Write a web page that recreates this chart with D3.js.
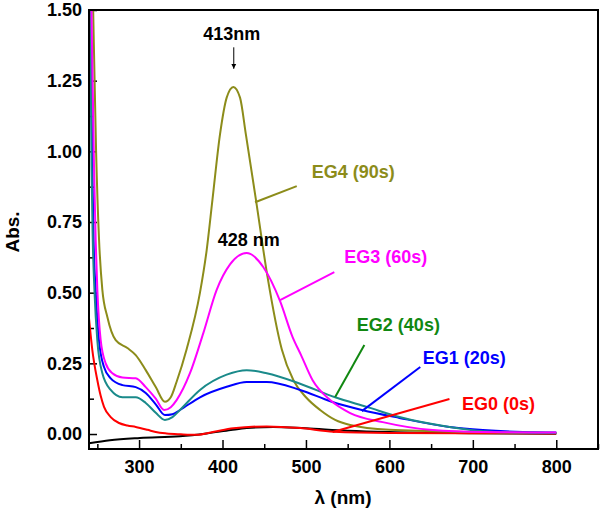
<!DOCTYPE html>
<html>
<head>
<meta charset="utf-8">
<script src="https://cdn.jsdelivr.net/npm/d3@7"></script>
<style>
  body { margin: 0; background: #fff; }
  text { font-family: "Liberation Sans", Arial, sans-serif; }
</style>
</head>
<body>
<div class="chart"></div>
<script>
const margin = { top: 10, bottom: 65, left: 89, right: 2 };

const width = 600 - margin.left - margin.right;
const height = 514 - margin.top - margin.bottom;

// wavelength (nm), absorbance
const eg4 = [[240,2.3],[245,1.5],[248.5,1.0],[252,0.69],[256,0.51],[262,0.414],[272,0.332],[286,0.304],[296,0.279],[308,0.226],[320,0.166],[331,0.114],[338,0.13],[345,0.185],[357,0.30],[373,0.50],[381,0.65],[388,0.83],[397,1.06],[405,1.19],[413,1.228],[421,1.19],[428,1.06],[440,0.83],[454,0.555],[471,0.30],[485,0.19],[500,0.13],[517,0.085],[535,0.05],[553,0.032],[600,0.015],[700,0.007],[800,0.004]];
const eg3 = [[240,2.1],[243,1.5],[246,0.95],[248,0.686],[250,0.51],[254,0.332],[260,0.25],[268,0.215],[280,0.20],[296,0.197],[308,0.166],[320,0.125],[330,0.085],[338,0.095],[345,0.12],[361,0.215],[377,0.357],[393,0.51],[409,0.60],[429,0.64],[449,0.59],[469,0.47],[484,0.343],[494,0.28],[508,0.19],[529,0.12],[553,0.074],[592,0.042],[652,0.014],[712,0.007],[800,0.005]];
const eg2 = [[240,1.9],[241.5,1.5],[243,0.95],[244.5,0.686],[246.5,0.51],[250,0.33],[256,0.215],[266,0.156],[280,0.13],[296,0.13],[308,0.11],[320,0.075],[331,0.05],[340,0.06],[349,0.085],[373,0.156],[405,0.21],[429,0.226],[453,0.215],[493,0.178],[535,0.13],[573,0.096],[612,0.06],[672,0.025],[712,0.01],[760,0.005],[800,0.004]];
const eg1 = [[240,1.95],[242,1.5],[244,0.95],[245.5,0.686],[248,0.51],[252,0.33],[258,0.237],[266,0.197],[280,0.173],[296,0.166],[308,0.145],[320,0.105],[331,0.067],[340,0.07],[349,0.085],[373,0.13],[405,0.167],[429,0.184],[453,0.184],[493,0.156],[530,0.115],[567,0.085],[612,0.057],[672,0.025],[712,0.014],[760,0.007],[800,0.005]];
const eg0 = [[240,0.41],[244,0.297],[250,0.19],[254,0.135],[258,0.096],[266,0.06],[276,0.039],[286,0.03],[296,0.025],[310,0.015],[320,0.007],[333,0.002],[350,-0.001],[369,-0.003],[390,0.008],[413,0.02],[453,0.027],[493,0.021],[533,0.008],[600,0.004],[700,0.003],[800,0.002]];
const blank = [[240,-0.033],[265,-0.022],[301,-0.014],[349,-0.008],[381,0.002],[410,0.014],[429,0.021],[461,0.025],[500,0.02],[550,0.012],[600,0.007],[700,0.003],[800,0.001]];

const x_major = [300, 400, 500, 600, 700, 800];
const x_minor = [250, 350, 450, 550, 650, 750, 850];
const y_major = [0, 0.25, 0.5, 0.75, 1.0, 1.25, 1.5];
const y_minor = [0.125, 0.375, 0.625, 0.875, 1.125, 1.375];

// label text, label anchor [nm, abs], leader line from -> to [nm, abs]
const labels = [
    { name: "EG4 (90s)", color: "#8c8c1a", at: [507, 0.905], from: [489, 0.877], to: [439, 0.82] },
    { name: "EG3 (60s)", color: "#ff00ff", at: [546, 0.605], from: [534, 0.573], to: [469, 0.474] },
    { name: "EG2 (40s)", color: "#118811", at: [561, 0.365], from: [570, 0.315], to: [535, 0.131] },
    { name: "EG1 (20s)", color: "#0000ff", at: [640, 0.248], from: [637, 0.237], to: [567, 0.081] },
    { name: "EG0 (0s)",  color: "#ff0000", at: [687, 0.085], from: [672, 0.124], to: [532, 0.007] }
];

const series = [
    { data: blank, color: "#000000" },
    { data: eg0, color: "#ff0000" },
    { data: eg4, color: "#8c8c1a" },
    { data: eg1, color: "#0000ff" },
    { data: eg2, color: "#1a8a8a" },
    { data: eg3, color: "#ff00ff" }
];

const svg = d3.select('.chart')
    .append('svg')
    .attr('width', width + margin.left + margin.right)
    .attr('height', height + margin.top + margin.bottom)
    .append('g')
    .attr('transform', `translate(${margin.left},${margin.top})`);

var x_scale = d3.scaleLinear()
    .domain([240, 850])
    .range([0, width]);

var y_scale = d3.scaleLinear()
    .domain([-0.053, 1.5])
    .range([height, 0]);

svg.append("clipPath")
    .attr("id", "plot_clip")
    .append("rect")
    .attr("width", width)
    .attr("height", height);

/* AXES */
// minor ticks first, then major ticks with labels
svg.append("g")
    .attr("transform", "translate(0," + height + ")")
    .call(d3.axisBottom(x_scale).tickValues(x_minor).tickSize(-5).tickFormat(""))
    .call(g => g.select(".domain").remove());

svg.append("g")
    .attr("class", "x_axis")
    .attr("transform", "translate(0," + height + ")")
    .call(d3.axisBottom(x_scale).tickValues(x_major).tickSize(-9).tickPadding(11).tickFormat(d3.format("d")))
    .call(g => g.select(".domain").remove());

svg.append("g")
    .call(d3.axisLeft(y_scale).tickValues(y_minor).tickSize(-5).tickFormat(""))
    .call(g => g.select(".domain").remove());

svg.append("g")
    .attr("class", "y_axis")
    .call(d3.axisLeft(y_scale).tickValues(y_major).tickSize(-8).tickPadding(7).tickFormat(d3.format(".2f")))
    .call(g => g.select(".domain").remove());

svg.selectAll(".tick line")
    .attr("stroke", "#000")
    .attr("stroke-width", 1.5);

svg.selectAll(".x_axis text, .y_axis text")
    .attr("font-family", "Liberation Sans, Arial, sans-serif")
    .attr("font-size", 18)
    .attr("font-weight", "bold")
    .attr("fill", "#000");

/* CURVES */
var line = d3.line()
    .x(d => x_scale(d[0]))
    .y(d => y_scale(d[1]))
    .curve(d3.curveMonotoneX);

svg.append("g")
    .attr("clip-path", "url(#plot_clip)")
    .selectAll("path")
    .data(series)
    .enter()
    .append("path")
    .attr("d", d => line(d.data))
    .attr("fill", "none")
    .attr("stroke", d => d.color)
    .attr("stroke-width", 2);

// frame
svg.append("rect")
    .attr("width", width)
    .attr("height", height)
    .attr("fill", "none")
    .attr("stroke", "#000")
    .attr("stroke-width", 2);

/* LABELS */
svg.selectAll("line.leader")
    .data(labels)
    .enter()
    .append("line")
    .attr("class", "leader")
    .attr("x1", d => x_scale(d.from[0]))
    .attr("y1", d => y_scale(d.from[1]))
    .attr("x2", d => x_scale(d.to[0]))
    .attr("y2", d => y_scale(d.to[1]))
    .attr("stroke", d => d.color)
    .attr("stroke-width", 2);

svg.selectAll("text.series_label")
    .data(labels)
    .enter()
    .append("text")
    .attr("class", "series_label")
    .attr("x", d => x_scale(d.at[0]))
    .attr("y", d => y_scale(d.at[1]))
    .attr("font-size", 18)
    .attr("font-weight", "bold")
    .attr("fill", d => d.color)
    .text(d => d.name);

// peak annotations
svg.append("defs").append("marker")
    .attr("id", "arrow")
    .attr("viewBox", "0 0 10 10")
    .attr("refX", 10)
    .attr("refY", 5)
    .attr("markerWidth", 5)
    .attr("markerHeight", 7)
    .attr("orient", "auto")
    .append("path")
    .attr("d", "M0,0 L10,5 L0,10 z")
    .attr("fill", "#000");

svg.append("line")
    .attr("x1", x_scale(413.5))
    .attr("y1", y_scale(1.368))
    .attr("x2", x_scale(413.5))
    .attr("y2", y_scale(1.292))
    .attr("stroke", "#000")
    .attr("stroke-width", 1)
    .attr("marker-end", "url(#arrow)");

svg.append("text")
    .attr("x", x_scale(411))
    .attr("y", y_scale(1.393))
    .attr("text-anchor", "middle")
    .attr("font-size", 18)
    .attr("font-weight", "bold")
    .text("413nm");

svg.append("text")
    .attr("x", x_scale(431.5))
    .attr("y", y_scale(0.665))
    .attr("text-anchor", "middle")
    .attr("font-size", 18)
    .attr("font-weight", "bold")
    .text("428 nm");

// axis titles
svg.append("text")
    .attr("x", 343 - margin.left)
    .attr("y", height + 55)
    .attr("text-anchor", "middle")
    .attr("font-size", 19)
    .attr("font-weight", "bold")
    .text("λ (nm)");

svg.append("text")
    .attr("transform", "translate(" + (19 - margin.left) + "," + (232 - margin.top) + ") rotate(-90)")
    .attr("text-anchor", "middle")
    .attr("font-size", 19)
    .attr("font-weight", "bold")
    .text("Abs.");
</script>
</body>
</html>
